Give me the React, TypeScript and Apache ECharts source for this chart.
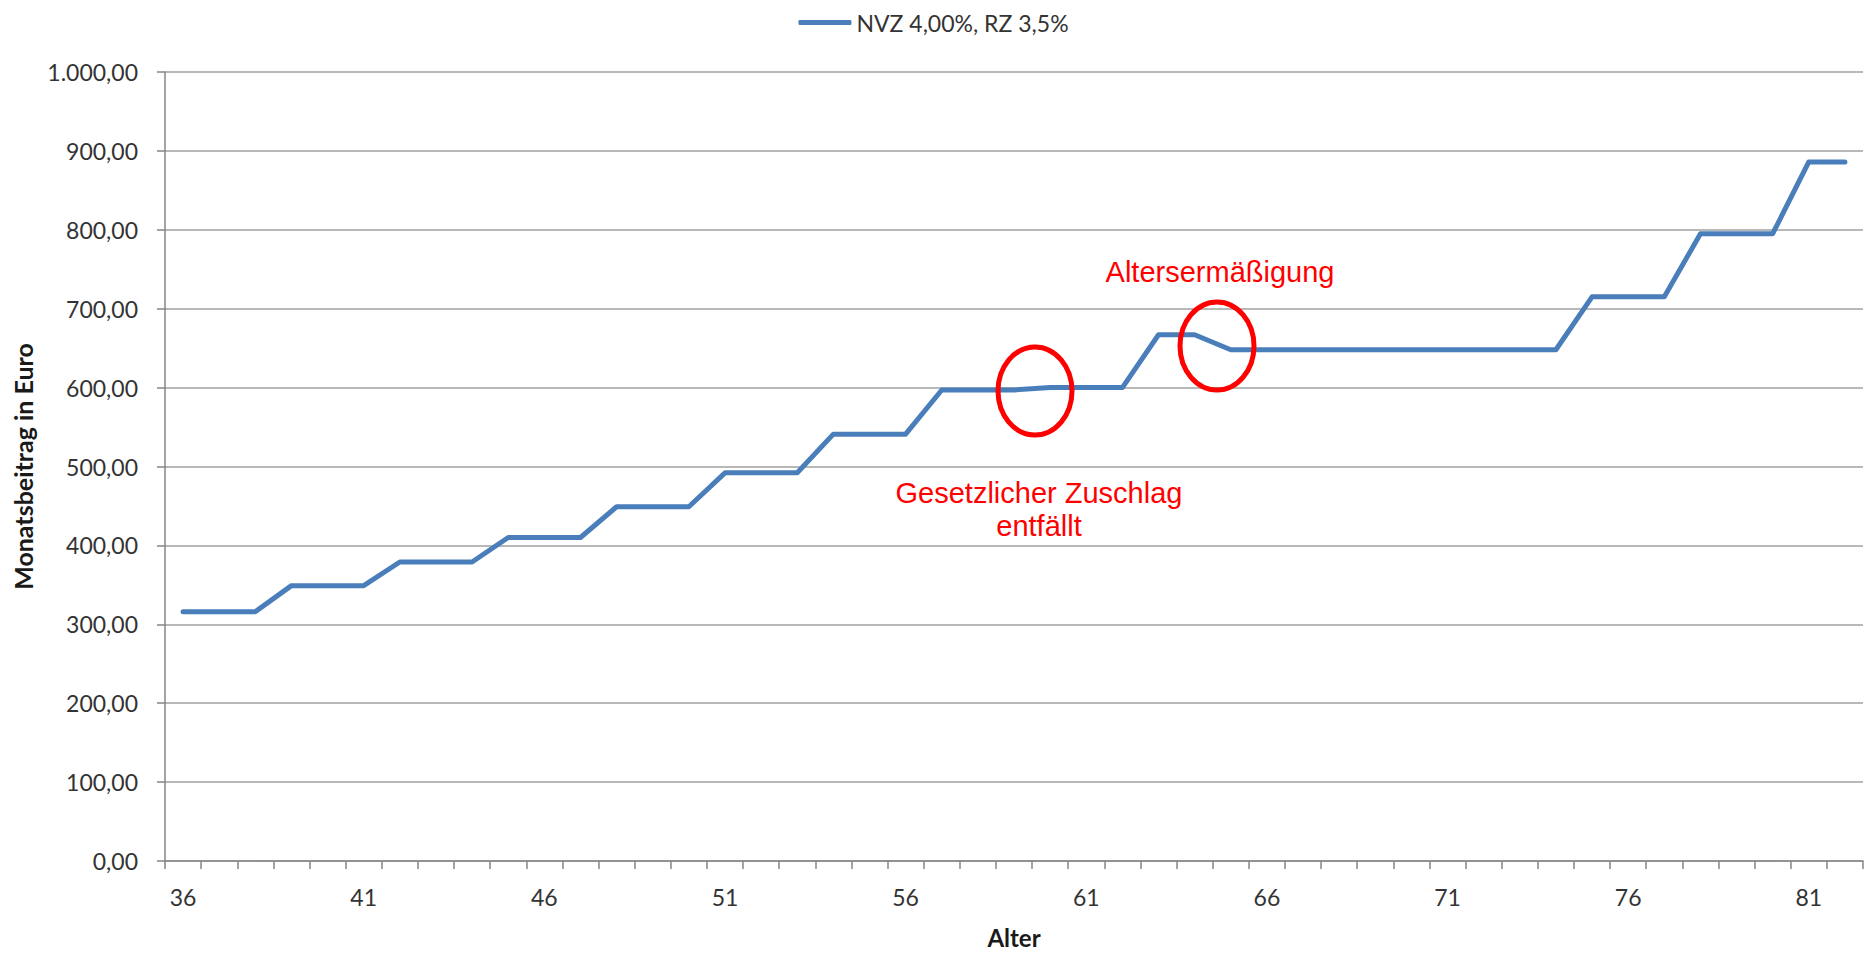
import React, { useEffect, useRef } from "react";
import * as echarts from "echarts";

const ages: string[] = [
  "36","37","38","39","40","41","42","43","44","45","46","47","48","49","50","51",
  "52","53","54","55","56","57","58","59","60","61","62","63","64","65","66","67",
  "68","69","70","71","72","73","74","75","76","77","78","79","80","81","82",
];

const beitrag: number[] = [
  316, 316, 316, 349, 349, 349, 379, 379, 379, 410, 410, 410, 449, 449, 449, 492,
  492, 492, 541, 541, 541, 597, 597, 597, 600, 600, 600, 667, 667, 648, 648, 648,
  648, 648, 648, 648, 648, 648, 648, 715, 715, 715, 795, 795, 795, 886, 886,
];

const seriesName = "NVZ 4,00%, RZ 3,5%";
const yAxisTitle = "Monatsbeitrag in Euro";
const xAxisTitle = "Alter";
const noteAlter = "Altersermäßigung";
const noteZuschlag1 = "Gesetzlicher Zuschlag";
const noteZuschlag2 = "entfällt";

function fmtDe(v: number): string {
  const fixed = v.toFixed(2);
  const [intPart, dec] = fixed.split(".");
  const withDots = intPart.replace(/\B(?=(\d{3})+(?!\d))/g, ".");
  return withDots + "," + dec;
}

const TICK_FONT = "Lato, 'Noto Sans', sans-serif";
const NOTE_FONT = "'Liberation Sans', Arial, sans-serif";

export default function App() {
  const ref = useRef<HTMLDivElement>(null);

  useEffect(() => {
    document.body.style.margin = "0";
    if (!ref.current) return;
    const chart = echarts.init(ref.current, undefined, { renderer: "svg" });
    const option: any = {
      animation: false,
      backgroundColor: "#ffffff",
      grid: { left: 165, right: 4, top: 72, bottom: 86, containLabel: false },
      legend: {
        top: 6,
        left: "center",
        itemWidth: 53,
        itemHeight: 5,
        itemGap: 6,
        textStyle: { fontFamily: TICK_FONT, fontSize: 23, color: "#333333" },
        data: [{ name: seriesName, icon: "roundRect", itemStyle: { color: "#4A7EBB" } }],
      },
      xAxis: {
        type: "category",
        data: ages,
        boundaryGap: true,
        name: xAxisTitle,
        nameLocation: "middle",
        nameGap: 64,
        nameTextStyle: { fontFamily: TICK_FONT, fontSize: 24, fontWeight: "bold", color: "#1a1a1a" },
        axisLine: { show: true, lineStyle: { color: "#868686", width: 1.5 } },
        axisTick: { show: true, interval: 0, length: 8, lineStyle: { color: "#868686", width: 1.5 } },
        axisLabel: {
          interval: 4,
          margin: 24,
          fontFamily: TICK_FONT,
          fontSize: 23,
          color: "#333333",
        },
        splitLine: { show: false },
      },
      yAxis: {
        type: "value",
        min: 0,
        max: 1000,
        interval: 100,
        name: yAxisTitle,
        nameLocation: "middle",
        nameGap: 130,
        nameRotate: 90,
        nameTextStyle: { fontFamily: TICK_FONT, fontSize: 25, fontWeight: "bold", color: "#1a1a1a" },
        axisLine: { show: true, lineStyle: { color: "#868686", width: 1.5 } },
        axisTick: { show: true, length: 8, lineStyle: { color: "#868686", width: 1.5 } },
        axisLabel: {
          margin: 27,
          fontFamily: TICK_FONT,
          fontSize: 23,
          color: "#333333",
          formatter: (v: number) => fmtDe(v),
        },
        splitLine: { show: true, lineStyle: { color: "#a0a0a0", width: 1.5 } },
      },
      series: [
        {
          name: seriesName,
          type: "line",
          data: beitrag,
          symbol: "none",
          smooth: false,
          lineStyle: { color: "#4A7EBB", width: 5, cap: "round", join: "round" },
          itemStyle: { color: "#4A7EBB" },
        },
      ],
      graphic: [
        {
          type: "ellipse",
          shape: { cx: 1035, cy: 391, rx: 37, ry: 44 },
          style: { fill: "none", stroke: "#FF0000", lineWidth: 5 },
          z: 100,
        },
        {
          type: "ellipse",
          shape: { cx: 1217, cy: 346, rx: 37, ry: 44 },
          style: { fill: "none", stroke: "#FF0000", lineWidth: 5 },
          z: 100,
        },
        {
          type: "text",
          x: 1220,
          y: 272,
          style: {
            text: noteAlter,
            fill: "#FF0000",
            font: "29px " + NOTE_FONT,
            textAlign: "center",
            textVerticalAlign: "middle",
          },
          z: 100,
        },
        {
          type: "text",
          x: 1039,
          y: 493,
          style: {
            text: noteZuschlag1,
            fill: "#FF0000",
            font: "29px " + NOTE_FONT,
            textAlign: "center",
            textVerticalAlign: "middle",
          },
          z: 100,
        },
        {
          type: "text",
          x: 1039,
          y: 526,
          style: {
            text: noteZuschlag2,
            fill: "#FF0000",
            font: "29px " + NOTE_FONT,
            textAlign: "center",
            textVerticalAlign: "middle",
          },
          z: 100,
        },
      ],
    };
    chart.setOption(option);
    return () => chart.dispose();
  }, []);

  return <div ref={ref} style={{ width: 1867, height: 954 }} />;
}
